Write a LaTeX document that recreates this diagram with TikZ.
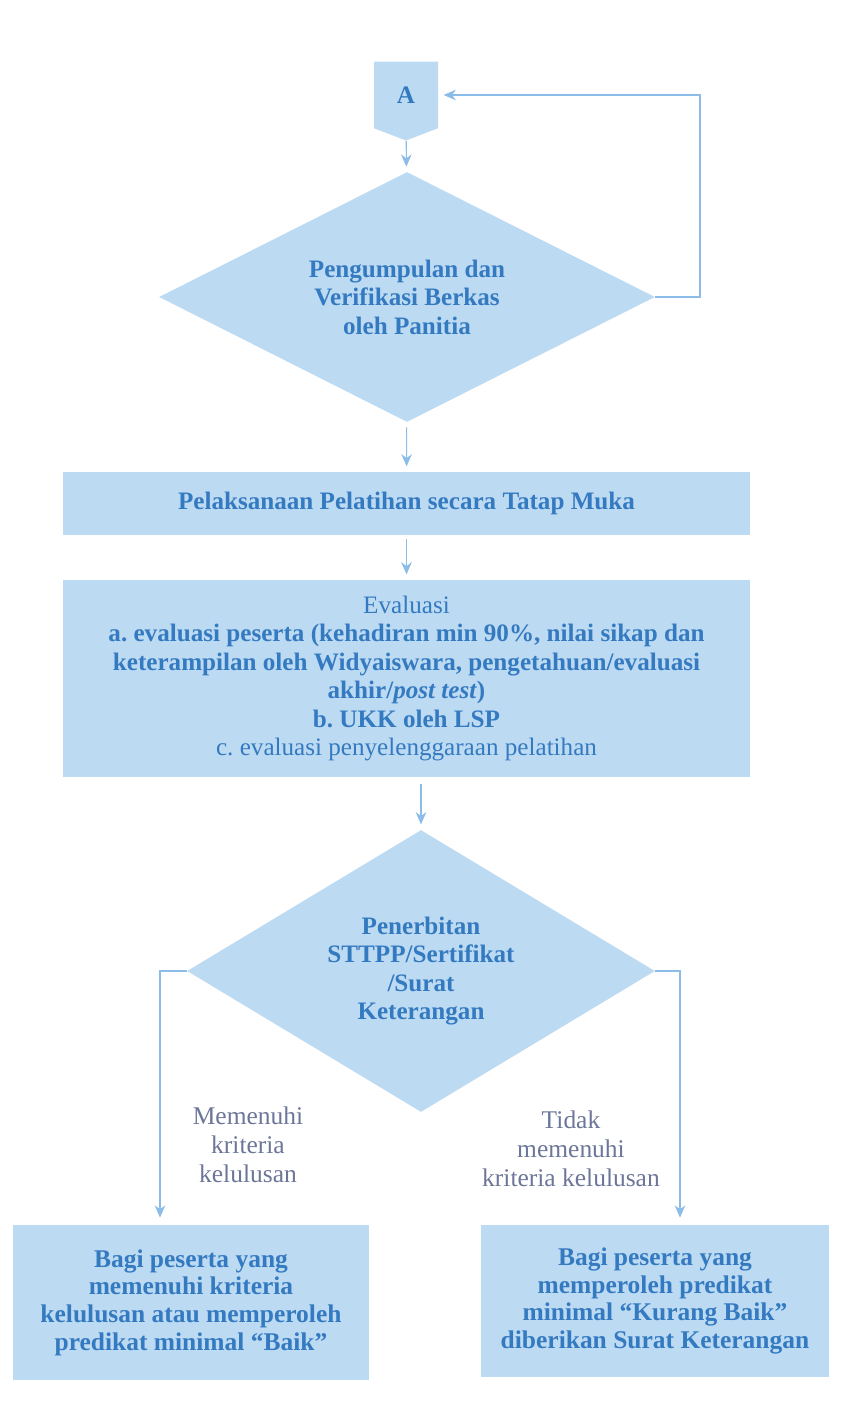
\documentclass[tikz,border=0pt]{standalone}
\usepackage{fontspec}
\setmainfont{Liberation Serif}
\usetikzlibrary{shapes.geometric,shapes.symbols,arrows.meta}
\frenchspacing

\definecolor{boxblue}{RGB}{189,218,243}
\definecolor{textblue}{RGB}{52,122,192}
\definecolor{labelgrey}{RGB}{108,118,152}
\definecolor{lineblue}{RGB}{140,188,232}

\begin{document}
\begin{tikzpicture}[x=0.02cm, y=-0.02cm,
    box/.style={rectangle, fill=boxblue, text=textblue, align=center, inner sep=0pt, font=\fontsize{14.3}{16.2}\selectfont},
    decision/.style={diamond, fill=boxblue, text=textblue, align=center, inner sep=0pt, font=\fontsize{14.3}{16.2}\selectfont\bfseries},
    flow/.style={draw=lineblue, line width=0.6pt, -{Stealth[length=7pt,width=6pt]}, shorten >=3pt},
    lbl/.style={text=labelgrey, align=center, font=\fontsize{14.5}{16.5}\selectfont}]
    \useasboundingbox (0, 0) rectangle (841, 1419);

    \node[signal, signal to=south, signal pointer angle=138, fill=boxblue, text=textblue, inner sep=0pt, minimum width=1.28cm, minimum height=1.4cm, font=\fontsize{14.3}{16}\selectfont\bfseries] at (406, 95) (a) {A};

    \node[decision, shape aspect=2, minimum width=9.92cm, minimum height=5cm] at (407, 297) (d1) {Pengumpulan dan\\Verifikasi Berkas\\oleh Panitia};

    \node[box, font=\fontsize{14.3}{16}\selectfont\bfseries, minimum width=13.74cm, minimum height=1.26cm] at (406.5, 503.5) (r1) {Pelaksanaan Pelatihan secara Tatap Muka};

    \node[box, minimum width=13.74cm, minimum height=3.94cm] at (406.5, 678.5) (r2) {Evaluasi\\
      \textbf{a. evaluasi peserta (kehadiran min 90\%, nilai sikap dan}\\
      \textbf{keterampilan oleh Widyaiswara, pengetahuan/evaluasi}\\
      \textbf{akhir/\textit{post test})}\\
      \textbf{b. UKK oleh LSP}\\
      c. evaluasi penyelenggaraan pelatihan};

    \node[decision, shape aspect=1.66, minimum width=9.36cm, minimum height=5.64cm] at (421, 971) (d2) {Penerbitan\\STTPP/Sertifikat\\/Surat\\Keterangan};

    \node[box, font=\fontsize{14.5}{15.8}\selectfont\bfseries, minimum width=7.12cm, minimum height=3.1cm] at (191, 1302.5) (lulus) {Bagi peserta yang\\memenuhi kriteria\\kelulusan atau memperoleh\\predikat minimal “Baik”};
    \node[box, font=\fontsize{14.5}{15.8}\selectfont\bfseries, minimum width=6.96cm, minimum height=3.04cm] at (655, 1301) (tidak) {Bagi peserta yang\\memperoleh predikat\\minimal “Kurang Baik”\\diberikan Surat Keterangan};

    \node[lbl] at (248, 1145) (memenuhi) {Memenuhi\\kriteria\\kelulusan};
    \node[lbl] at (571, 1149) (tdkmemenuhi) {Tidak\\memenuhi\\kriteria kelulusan};

    \coordinate (loopr) at (700, 297);
    \coordinate (lturn) at (160, 971);
    \coordinate (rturn) at (680, 971);

    \draw[flow] (a) -- (d1);
    \draw[flow] (d1.east) -- (loopr) |- (a.east);
    \draw[flow, shorten <=3pt] (d1) -- (r1);
    \draw[flow, shorten <=2pt] (r1) -- (r2);
    \draw[flow, shorten <=4pt] (r2.south -| d2.north) -- (d2.north);
    \draw[flow, shorten >=4pt] (d2.west) -- (lturn) -- (lturn |- lulus.north);
    \draw[flow, shorten >=4pt] (d2.east) -- (rturn) -- (rturn |- tidak.north);
\end{tikzpicture}
\end{document}
